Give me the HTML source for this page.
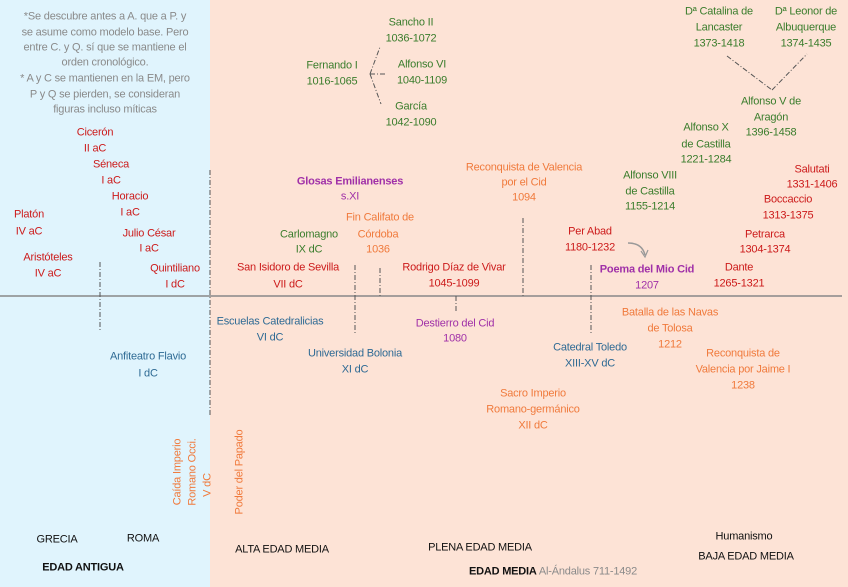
<!DOCTYPE html><html><head><meta charset="utf-8"><style>
body{margin:0}
#c{position:relative;width:848px;height:587px;background:#fde3d6;overflow:hidden;font-family:"Liberation Sans",sans-serif;font-size:11px;letter-spacing:-0.2px}
#b{position:absolute;left:0;top:0;width:210px;height:587px;background:#e0f4fd}
.t{position:absolute;transform:translate(-50%,-50%);white-space:nowrap;line-height:1}
.r{color:#cc1a1a}.g{color:#3a7d2c}.o{color:#f07a3c}.p{color:#a030a8}.bl{color:#2e6a94}.gr{color:#8a8a8a}.k{color:#111}
svg{position:absolute;left:0;top:0}
</style></head><body><div id="c"><div id="b"></div>
<svg width="848" height="587">
<line x1="0" y1="296" x2="842" y2="296" stroke="#888" stroke-width="1.5"/>
<g stroke="#555" stroke-dasharray="5,2,1,2" stroke-width="1">
<line x1="100" y1="262" x2="100" y2="332"/><line x1="210" y1="170" x2="210" y2="415"/>
<line x1="355" y1="265" x2="355" y2="333"/><line x1="380" y1="268" x2="380" y2="296"/>
<line x1="456" y1="296" x2="456" y2="312"/><line x1="523" y1="218" x2="523" y2="296"/>
<line x1="591" y1="265" x2="591" y2="333"/>
<line x1="370" y1="74" x2="380" y2="47"/><line x1="370" y1="74" x2="381" y2="104"/><line x1="370" y1="74" x2="386" y2="74"/>
<line x1="727" y1="56" x2="772" y2="90"/><line x1="772" y1="90" x2="807" y2="54"/>
</g>
<path d="M628 243 Q642 243 645 255" stroke="#999" fill="none" stroke-width="1.5"/>
<path d="M641 251 L645 257 L648 250" stroke="#999" fill="none" stroke-width="1.2"/>
</svg>
<div class="t gr" style="left:105px;top:17px">*Se descubre antes a A. que a P. y</div>
<div class="t gr" style="left:105px;top:33px">se asume como modelo base. Pero</div>
<div class="t gr" style="left:105px;top:48px">entre C. y Q. sí que se mantiene el</div>
<div class="t gr" style="left:105px;top:63px">orden cronológico.</div>
<div class="t gr" style="left:105px;top:79px">* A y C se mantienen en la EM, pero</div>
<div class="t gr" style="left:105px;top:95px">P y Q se pierden, se consideran</div>
<div class="t gr" style="left:105px;top:110px">figuras incluso míticas</div>
<div class="t r" style="left:95px;top:133px">Cicerón</div><div class="t r" style="left:95px;top:149px">II aC</div>
<div class="t r" style="left:111px;top:165px">Séneca</div><div class="t r" style="left:111px;top:181px">I aC</div>
<div class="t r" style="left:130px;top:197px">Horacio</div><div class="t r" style="left:130px;top:213px">I aC</div>
<div class="t r" style="left:29px;top:215px">Platón</div><div class="t r" style="left:29px;top:232px">IV aC</div>
<div class="t r" style="left:149px;top:234px">Julio César</div><div class="t r" style="left:149px;top:249px">I aC</div>
<div class="t r" style="left:48px;top:258px">Aristóteles</div><div class="t r" style="left:48px;top:274px">IV aC</div>
<div class="t r" style="left:175px;top:269px">Quintiliano</div><div class="t r" style="left:175px;top:285px">I dC</div>
<div class="t g" style="left:411px;top:23px">Sancho II</div><div class="t g" style="left:411px;top:39px">1036-1072</div>
<div class="t g" style="left:332px;top:66px">Fernando I</div><div class="t g" style="left:332px;top:82px">1016-1065</div>
<div class="t g" style="left:422px;top:65px">Alfonso VI</div><div class="t g" style="left:422px;top:81px">1040-1109</div>
<div class="t g" style="left:411px;top:107px">García</div><div class="t g" style="left:411px;top:123px">1042-1090</div>
<div class="t p" style="left:350px;top:182px;font-weight:bold">Glosas Emilianenses</div><div class="t p" style="left:350px;top:197px">s.XI</div>
<div class="t o" style="left:380px;top:218px">Fin Califato de</div><div class="t o" style="left:378px;top:235px">Córdoba</div><div class="t o" style="left:378px;top:250px">1036</div>
<div class="t g" style="left:309px;top:235px">Carlomagno</div><div class="t g" style="left:309px;top:250px">IX dC</div>
<div class="t r" style="left:288px;top:268px">San Isidoro de Sevilla</div><div class="t r" style="left:288px;top:285px">VII dC</div>
<div class="t r" style="left:454px;top:268px">Rodrigo Díaz de Vivar</div><div class="t r" style="left:454px;top:284px">1045-1099</div>
<div class="t o" style="left:524px;top:168px">Reconquista de Valencia</div><div class="t o" style="left:524px;top:183px">por el Cid</div><div class="t o" style="left:524px;top:198px">1094</div>
<div class="t r" style="left:590px;top:232px">Per Abad</div><div class="t r" style="left:590px;top:248px">1180-1232</div>
<div class="t p" style="left:647px;top:270px;font-weight:bold">Poema del Mio Cid</div><div class="t p" style="left:647px;top:286px">1207</div>
<div class="t g" style="left:650px;top:176px">Alfonso VIII</div><div class="t g" style="left:650px;top:192px">de Castilla</div><div class="t g" style="left:650px;top:207px">1155-1214</div>
<div class="t g" style="left:706px;top:128px">Alfonso X</div><div class="t g" style="left:706px;top:145px">de Castilla</div><div class="t g" style="left:706px;top:160px">1221-1284</div>
<div class="t g" style="left:771px;top:102px">Alfonso V de</div><div class="t g" style="left:771px;top:118px">Aragón</div><div class="t g" style="left:771px;top:133px">1396-1458</div>
<div class="t g" style="left:719px;top:12px">Dª Catalina de</div><div class="t g" style="left:719px;top:28px">Lancaster</div><div class="t g" style="left:719px;top:44px">1373-1418</div>
<div class="t g" style="left:806px;top:12px">Dª Leonor de</div><div class="t g" style="left:806px;top:28px">Albuquerque</div><div class="t g" style="left:806px;top:44px">1374-1435</div>
<div class="t r" style="left:812px;top:170px">Salutati</div><div class="t r" style="left:812px;top:185px">1331-1406</div>
<div class="t r" style="left:788px;top:200px">Boccaccio</div><div class="t r" style="left:788px;top:216px">1313-1375</div>
<div class="t r" style="left:765px;top:235px">Petrarca</div><div class="t r" style="left:765px;top:250px">1304-1374</div>
<div class="t r" style="left:739px;top:268px">Dante</div><div class="t r" style="left:739px;top:284px">1265-1321</div>
<div class="t bl" style="left:270px;top:322px">Escuelas Catedralicias</div><div class="t bl" style="left:270px;top:338px">VI dC</div>
<div class="t bl" style="left:355px;top:354px">Universidad Bolonia</div><div class="t bl" style="left:355px;top:370px">XI dC</div>
<div class="t bl" style="left:148px;top:357px">Anfiteatro Flavio</div><div class="t bl" style="left:148px;top:374px">I dC</div>
<div class="t p" style="left:455px;top:324px">Destierro del Cid</div><div class="t p" style="left:455px;top:339px">1080</div>
<div class="t bl" style="left:590px;top:348px">Catedral Toledo</div><div class="t bl" style="left:590px;top:364px">XIII-XV dC</div>
<div class="t o" style="left:670px;top:313px">Batalla de las Navas</div><div class="t o" style="left:670px;top:329px">de Tolosa</div><div class="t o" style="left:670px;top:345px">1212</div>
<div class="t o" style="left:743px;top:354px">Reconquista de</div><div class="t o" style="left:743px;top:370px">Valencia por Jaime I</div><div class="t o" style="left:743px;top:386px">1238</div>
<div class="t o" style="left:533px;top:394px">Sacro Imperio</div><div class="t o" style="left:533px;top:410px">Romano-germánico</div><div class="t o" style="left:533px;top:426px">XII dC</div>
<div class="t o" style="left:178px;top:472px;transform:translate(-50%,-50%) rotate(-90deg)">Caída Imperio</div>
<div class="t o" style="left:193px;top:472px;transform:translate(-50%,-50%) rotate(-90deg)">Romano Occi.</div>
<div class="t o" style="left:208px;top:485px;transform:translate(-50%,-50%) rotate(-90deg)">V dC</div>
<div class="t o" style="left:240px;top:472px;transform:translate(-50%,-50%) rotate(-90deg)">Poder del Papado</div>
<div class="t k" style="left:57px;top:540px">GRECIA</div>
<div class="t k" style="left:143px;top:539px">ROMA</div>
<div class="t k" style="left:83px;top:568px;font-weight:bold">EDAD ANTIGUA</div>
<div class="t k" style="left:282px;top:550px">ALTA EDAD MEDIA</div>
<div class="t k" style="left:480px;top:548px">PLENA EDAD MEDIA</div>
<div class="t k" style="left:553px;top:572px"><b>EDAD MEDIA</b> <span class="gr">Al-Ándalus 711-1492</span></div>
<div class="t k" style="left:744px;top:537px">Humanismo</div>
<div class="t k" style="left:746px;top:557px">BAJA EDAD MEDIA</div>
</div></body></html>
